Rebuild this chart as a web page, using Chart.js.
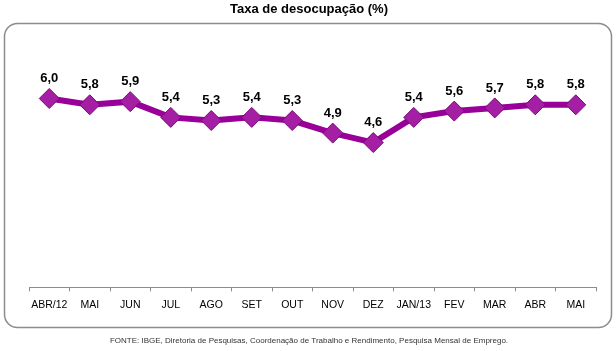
<!DOCTYPE html>
<html>
<head>
<meta charset="utf-8">
<script src="https://cdn.jsdelivr.net/npm/chart.js@4"></script>
<style>
  html, body { margin: 0; padding: 0; background: #fff; }
  #wrap { width: 616px; height: 351px; }
</style>
</head>
<body>
<div id="wrap"><canvas id="chart" width="616" height="351"></canvas></div>
<script>
const meses = ['ABR/12', 'MAI', 'JUN', 'JUL', 'AGO', 'SET', 'OUT', 'NOV', 'DEZ', 'JAN/13', 'FEV', 'MAR', 'ABR', 'MAI'];
const taxa = [6.0, 5.8, 5.9, 5.4, 5.3, 5.4, 5.3, 4.9, 4.6, 5.4, 5.6, 5.7, 5.8, 5.8];
const titulo = 'Taxa de desocupação (%)';
const fonte = 'FONTE: IBGE, Diretoria de Pesquisas, Coordenação de Trabalho e Rendimento, Pesquisa Mensal de Emprego.';

// moldura arredondada, titulo e fonte
const moldura = {
  id: 'moldura',
  beforeDraw(chart) {
    const ctx = chart.ctx;
    ctx.save();
    ctx.fillStyle = '#fff';
    ctx.fillRect(0, 0, chart.width, chart.height);
    ctx.strokeStyle = '#8c8c8c';
    ctx.lineWidth = 1.5;
    ctx.beginPath();
    ctx.roundRect(4.5, 23.5, 607, 304, 13);
    ctx.stroke();
    ctx.fillStyle = '#000';
    ctx.textAlign = 'center';
    ctx.textBaseline = 'middle';
    ctx.font = 'bold 13px "Liberation Sans", Arial, sans-serif';
    ctx.fillText(titulo, 309, 9);
    ctx.fillStyle = '#333';
    ctx.font = '8px "Liberation Sans", Arial, sans-serif';
    ctx.fillText(fonte, 309, 341);
    ctx.restore();
  }
};

// rotulos dos valores acima dos pontos
const rotulos = {
  id: 'rotulos',
  afterDatasetsDraw(chart) {
    const ctx = chart.ctx;
    const meta = chart.getDatasetMeta(0);
    ctx.save();
    ctx.fillStyle = '#000';
    ctx.textAlign = 'center';
    ctx.textBaseline = 'middle';
    ctx.font = 'bold 13px "Liberation Sans", Arial, sans-serif';
    meta.data.forEach((pt, i) => {
      ctx.fillText(taxa[i].toFixed(1).replace('.', ','), pt.x, pt.y - 20);
    });
    ctx.restore();
  }
};

new Chart('chart', {
  type: 'line',
  data: {
    labels: meses,
    datasets: [{
      data: taxa,
      borderColor: '#990099',
      borderWidth: 6,
      pointStyle: 'rectRot',
      pointRadius: 10,
      pointBackgroundColor: '#a51fa5',
      pointBorderColor: '#7a0a7a',
      pointBorderWidth: 1,
      tension: 0
    }]
  },
  options: {
    responsive: false,
    animation: false,
    layout: { padding: { left: 29, right: 20, top: 67, bottom: 33 } },
    plugins: { legend: { display: false }, tooltip: { enabled: false } },
    scales: {
      y: { display: false, min: 0, max: 7 },
      x: {
        offset: true,
        border: { display: true, color: '#8c8c8c', width: 1 },
        grid: { display: true, drawOnChartArea: false, drawTicks: true, tickLength: 4, color: '#8c8c8c', offset: true },
        ticks: { color: '#000', padding: 7, font: { family: '"Liberation Sans", Arial, sans-serif', size: 10.5 }, maxRotation: 0, autoSkip: false }
      }
    }
  },
  plugins: [moldura, rotulos]
});
</script>
</body>
</html>
